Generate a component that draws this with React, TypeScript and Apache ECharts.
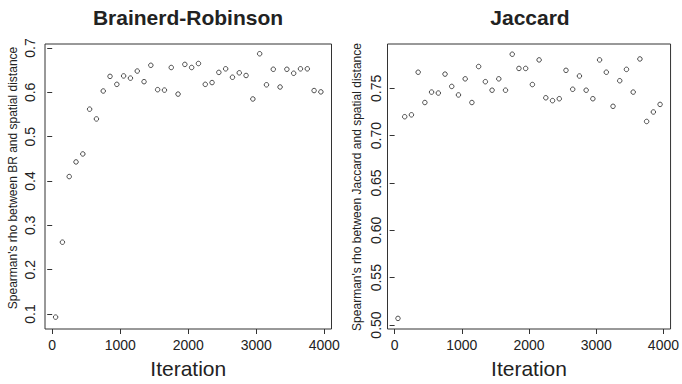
import React, { useEffect, useRef } from "react";
import * as echarts from "echarts";

const iterations = [
  50, 150, 250, 350, 450, 550, 650, 750, 850, 950,
  1050, 1150, 1250, 1350, 1450, 1550, 1650, 1750, 1850, 1950,
  2050, 2150, 2250, 2350, 2450, 2550, 2650, 2750, 2850, 2950,
  3050, 3150, 3250, 3350, 3450, 3550, 3650, 3750, 3850, 3950,
];

const brValues = [
  0.093, 0.262, 0.41, 0.443, 0.461, 0.562, 0.54, 0.603, 0.636, 0.618,
  0.637, 0.632, 0.648, 0.624, 0.661, 0.606, 0.605, 0.656, 0.596, 0.663,
  0.656, 0.665, 0.618, 0.622, 0.645, 0.653, 0.634, 0.644, 0.638, 0.585,
  0.687, 0.617, 0.652, 0.612, 0.652, 0.643, 0.653, 0.653, 0.604, 0.601,
];

const jaccardValues = [
  0.507, 0.72, 0.722, 0.767, 0.735, 0.746, 0.745, 0.765, 0.752, 0.743,
  0.76, 0.735, 0.773, 0.757, 0.748, 0.76, 0.748, 0.786, 0.771, 0.771,
  0.754, 0.78, 0.74, 0.737, 0.739, 0.769, 0.749, 0.763, 0.748, 0.739,
  0.78, 0.767, 0.731, 0.758, 0.77, 0.746, 0.781, 0.715, 0.725, 0.733,
];

const xTicks = [0, 1000, 2000, 3000, 4000];
const brTicks = [0.1, 0.2, 0.3, 0.4, 0.5, 0.6, 0.7];
const jaccardTicks = [0.5, 0.55, 0.6, 0.65, 0.7, 0.75];

const titles = ["Brainerd-Robinson", "Jaccard"];
const yTitles = [
  "Spearman's rho between BR and spatial distance",
  "Spearman's rho between Jaccard and spatial distance",
];
const xTitle = "Iteration";

const FONT = "'Liberation Sans', Arial, Helvetica, sans-serif";
const INK = "#222";

export default function App() {
  const ref = useRef<HTMLDivElement>(null);

  useEffect(() => {
    if (!ref.current) return;
    const chart = echarts.init(ref.current, undefined, { renderer: "svg" });

    const makeX = (gridIndex: number) => ({
      type: "value",
      gridIndex,
      min: -106,
      max: 4106,
      axisLine: { show: false },
      splitLine: { show: false },
      axisTick: {
        show: true,
        customValues: xTicks,
        length: 5,
        lineStyle: { color: "#333", width: 1 },
      },
      axisLabel: {
        customValues: xTicks,
        fontSize: 14,
        fontFamily: FONT,
        color: INK,
        margin: 9,
        formatter: (v: number) => String(v),
      },
      name: xTitle,
      nameLocation: "middle",
      nameGap: 29,
      nameTextStyle: { fontSize: 21, fontFamily: FONT, color: INK },
    });

    const makeY = (
      gridIndex: number,
      min: number,
      max: number,
      ticks: number[],
      decimals: number,
      margin: number
    ) => ({
      type: "value",
      gridIndex,
      min,
      max,
      axisLine: { show: false },
      splitLine: { show: false },
      axisTick: {
        show: true,
        customValues: ticks,
        length: 5,
        lineStyle: { color: "#333", width: 1 },
      },
      axisLabel: {
        customValues: ticks,
        rotate: 90,
        fontSize: 14,
        fontFamily: FONT,
        color: INK,
        margin,
        formatter: (v: number) => v.toFixed(decimals),
      },
    });

    const pointStyle = {
      color: "#fff",
      borderColor: "#222",
      borderWidth: 1,
    };

    chart.setOption({
      animation: false,
      backgroundColor: "#fff",
      grid: [
        {
          left: 45,
          top: 44,
          width: 286.5,
          height: 285,
          show: true,
          borderColor: "#333",
          borderWidth: 1,
          backgroundColor: "transparent",
        },
        {
          left: 387.5,
          top: 44,
          width: 285,
          height: 285,
          show: true,
          borderColor: "#333",
          borderWidth: 1,
          backgroundColor: "transparent",
        },
      ],
      xAxis: [makeX(0), makeX(1)],
      yAxis: [
        makeY(0, 0.0662, 0.709, brTicks, 1, 8),
        makeY(1, 0.4958, 0.7968, jaccardTicks, 2, 4.5),
      ],
      series: [
        {
          type: "scatter",
          xAxisIndex: 0,
          yAxisIndex: 0,
          symbol: "circle",
          symbolSize: 4.5,
          itemStyle: pointStyle,
          data: iterations.map((x, i) => [x, brValues[i]]),
        },
        {
          type: "scatter",
          xAxisIndex: 1,
          yAxisIndex: 1,
          symbol: "circle",
          symbolSize: 4.5,
          itemStyle: pointStyle,
          data: iterations.map((x, i) => [x, jaccardValues[i]]),
        },
      ],
      graphic: [
        {
          type: "text",
          x: 188,
          y: 17,
          style: {
            text: titles[0],
            fontSize: 21,
            fontWeight: "bold",
            fontFamily: FONT,
            fill: INK,
            align: "center",
            verticalAlign: "middle",
          },
        },
        {
          type: "text",
          x: 530,
          y: 17,
          style: {
            text: titles[1],
            fontSize: 21,
            fontWeight: "bold",
            fontFamily: FONT,
            fill: INK,
            align: "center",
            verticalAlign: "middle",
          },
        },
        {
          type: "text",
          x: 13,
          y: 178,
          rotation: Math.PI / 2,
          style: {
            text: yTitles[0],
            fontSize: 12,
            fontFamily: FONT,
            fill: INK,
            align: "center",
            verticalAlign: "middle",
          },
        },
        {
          type: "text",
          x: 357,
          y: 187,
          rotation: Math.PI / 2,
          style: {
            text: yTitles[1],
            fontSize: 12,
            fontFamily: FONT,
            fill: INK,
            align: "center",
            verticalAlign: "middle",
          },
        },
      ],
    });

    return () => chart.dispose();
  }, []);

  return (
    <div
      ref={ref}
      style={{ position: "fixed", left: 0, top: 0, width: 682, height: 384 }}
    />
  );
}
